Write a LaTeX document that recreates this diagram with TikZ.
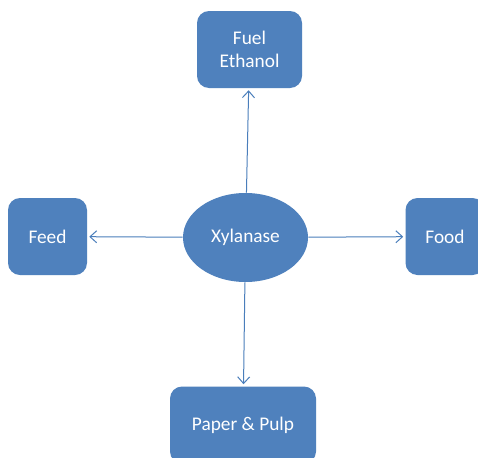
\documentclass[tikz,border=0pt]{standalone}
\usepackage{fontspec}
\setmainfont{Carlito}
\usetikzlibrary{arrows.meta,shapes.geometric}
\definecolor{obox}{HTML}{4F81BD}
\definecolor{oline}{HTML}{4A7EBB}
\tikzset{
  box/.style={draw=none,fill=obox,rounded corners=9pt,text=white,font=\fontsize{14.5}{17.5}\selectfont,align=center,inner sep=0pt},
  hub/.style={ellipse,draw=none,fill=obox,text=white,font=\fontsize{14.5}{17.5}\selectfont,inner sep=0pt,minimum width=93.75pt,minimum height=66.75pt},
  conn/.style={draw=oline,line width=0.75pt,-{Straight Barb[length=5pt,width=9pt]},shorten >=1.5pt}
}
\begin{document}
\begin{tikzpicture}[x=0.75pt,y=-0.75pt]
\useasboundingbox (0,0) rectangle (478,457);
\clip (0,0) rectangle (478,457);
\fill[white] (0,0) rectangle (478,457);
\node[hub] (x) at (245.5,237.5) {Xylanase};
\node[box,minimum width=78.75pt,minimum height=57.75pt] (fuel) at (249.5,49.5) {Fuel\\Ethanol};
\node[box,minimum width=59.25pt,minimum height=57.75pt] (feed) at (47.5,236.5) {Feed};
\node[box,minimum width=59.25pt,minimum height=57.75pt] (food) at (445,236.5) {Food};
\node[box,minimum width=109.5pt,minimum height=57.75pt] (paper) at (243,425) {Paper \& Pulp};
\draw[conn] (x) -- (fuel);
\draw[conn] (x) -- (feed);
\draw[conn] (x) -- (food);
\draw[conn] (x) -- (paper);
\end{tikzpicture}
\end{document}
